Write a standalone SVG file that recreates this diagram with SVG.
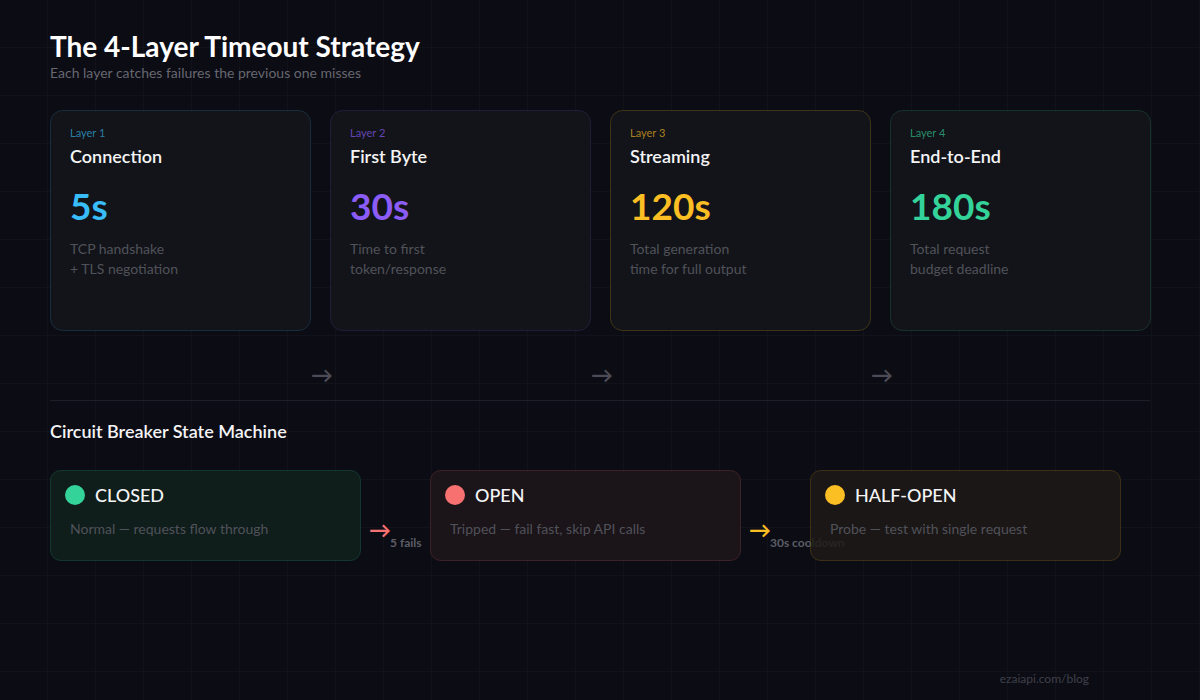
<svg xmlns="http://www.w3.org/2000/svg" width="1200" height="700" viewBox="0 0 1200 700">
<defs>
<pattern id="grid" width="48" height="48" patternUnits="userSpaceOnUse">
<path d="M48 0V48M0 48H48" fill="none" stroke="#181822" stroke-width="1"/>
</pattern>
<style>
text{font-family:Lato,"Noto Sans","DejaVu Sans",sans-serif}
.card{fill:#131419;stroke-width:1}
.lbl{font-size:11px}
.name{font-size:18px;font-weight:600;fill:#f4f4f6}
.big{font-size:37px;font-weight:700}
.desc{font-size:14px;fill:#50525a}
.arr{font-size:22px;font-weight:700;fill:#4a4b55}
.st{font-size:18px;font-weight:500;fill:#f4f4f6}
.sdesc{font-size:14px;fill:#50525a}
.tl{font-size:12px;font-weight:700;fill:#5c5d66}
</style>
</defs>
<rect width="1200" height="700" fill="#0c0c14"/>
<rect width="1200" height="700" fill="url(#grid)"/>
<text x="50" y="57" font-size="28" font-weight="700" fill="#ffffff">The 4-Layer Timeout Strategy</text>
<text x="50" y="78" font-size="14" fill="#666770">Each layer catches failures the previous one misses</text>

<g id="layer1">
<rect class="card" x="50.5" y="110.5" width="260" height="220" rx="12" stroke="#38bdf8" stroke-opacity="0.17"/>
<text class="lbl" x="70" y="137" fill="#38bdf8" fill-opacity="0.65">Layer 1</text>
<text class="name" x="70" y="163">Connection</text>
<text class="big" x="70" y="220" fill="#38bdf8">5s</text>
<text class="desc" x="70" y="254">TCP handshake</text>
<text class="desc" x="70" y="274">+ TLS negotiation</text>
</g>
<g id="layer2">
<rect class="card" x="330.5" y="110.5" width="260" height="220" rx="12" stroke="#8b5cf6" stroke-opacity="0.15"/>
<text class="lbl" x="350" y="137" fill="#8b5cf6" fill-opacity="0.7">Layer 2</text>
<text class="name" x="350" y="163">First Byte</text>
<text class="big" x="350" y="220" fill="#8b5cf6">30s</text>
<text class="desc" x="350" y="254">Time to first</text>
<text class="desc" x="350" y="274">token/response</text>
</g>
<g id="layer3">
<rect class="card" x="610.5" y="110.5" width="260" height="220" rx="12" stroke="#fbbf24" stroke-opacity="0.2"/>
<text class="lbl" x="630" y="137" fill="#fbbf24" fill-opacity="0.65">Layer 3</text>
<text class="name" x="630" y="163">Streaming</text>
<text class="big" x="630" y="220" fill="#fbbf24">120s</text>
<text class="desc" x="630" y="254">Total generation</text>
<text class="desc" x="630" y="274">time for full output</text>
</g>
<g id="layer4">
<rect class="card" x="890.5" y="110.5" width="260" height="220" rx="12" stroke="#34d399" stroke-opacity="0.17"/>
<text class="lbl" x="910" y="137" fill="#34d399" fill-opacity="0.65">Layer 4</text>
<text class="name" x="910" y="163">End-to-End</text>
<text class="big" x="910" y="220" fill="#34d399">180s</text>
<text class="desc" x="910" y="254">Total request</text>
<text class="desc" x="910" y="274">budget deadline</text>
</g>

<g id="layer-arrows">
<text class="arr" x="311" y="383">→</text>
<text class="arr" x="591" y="383">→</text>
<text class="arr" x="871" y="383">→</text>
</g>

<line x1="50" y1="400.5" x2="1150" y2="400.5" stroke="#1e1f29" stroke-width="1"/>

<text x="50" y="438" font-size="18" font-weight="600" fill="#f4f4f6">Circuit Breaker State Machine</text>

<g id="transitions">
<text x="369" y="538" font-size="22" font-weight="700" fill="#f87171">→</text>
<text class="tl" x="390" y="547">5 fails</text>
<text x="749" y="538" font-size="22" font-weight="700" fill="#fbbf24">→</text>
<text class="tl" x="770" y="547">30s cooldown</text>
</g>

<g id="closed">
<rect x="50.5" y="470.5" width="310" height="90" rx="10" fill="#0f1d1b" stroke="#34d399" stroke-opacity="0.18"/>
<circle cx="75" cy="495" r="10" fill="#34d399"/>
<text class="st" x="95" y="502">CLOSED</text>
<text class="sdesc" x="70" y="534">Normal — requests flow through</text>
</g>
<g id="open">
<rect x="430.5" y="470.5" width="310" height="90" rx="10" fill="#1b1419" stroke="#f87171" stroke-opacity="0.18"/>
<circle cx="455" cy="495" r="10" fill="#f87171"/>
<text class="st" x="475" y="502">OPEN</text>
<text class="sdesc" x="450" y="534">Tripped — fail fast, skip API calls</text>
</g>
<g id="half-open">
<rect x="810.5" y="470.5" width="310" height="90" rx="10" fill="#1f1a16" fill-opacity="0.85" stroke="#fbbf24" stroke-opacity="0.18"/>
<circle cx="835" cy="495" r="10" fill="#fbbf24"/>
<text class="st" x="855" y="502">HALF-OPEN</text>
<text class="sdesc" x="830" y="534">Probe — test with single request</text>
</g>

<text x="1089" y="683" font-size="12" fill="#3f4049" text-anchor="end">ezaiapi.com/blog</text>
</svg>
